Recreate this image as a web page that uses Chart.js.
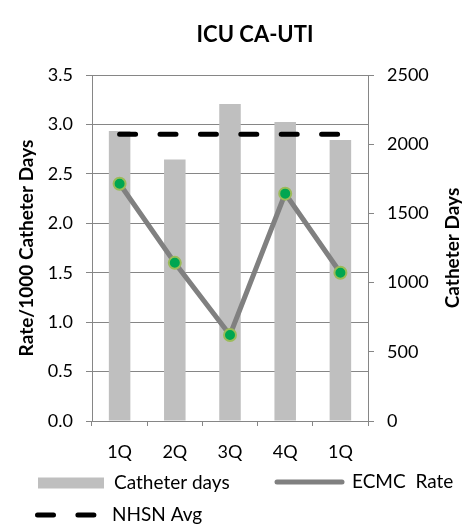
<!DOCTYPE html>
<html>
<head>
<meta charset="utf-8">
<title>ICU CA-UTI</title>
<script src="https://cdn.jsdelivr.net/npm/chart.js@4.4.1/dist/chart.umd.min.js"></script>
<style>
  html, body { margin: 0; padding: 0; background: #fff; }
  canvas { display: block; }
</style>
</head>
<body>
<canvas id="cautiChart" width="470" height="527"></canvas>
<script>
// ------------------- Dane -------------------
const quarters = ['1Q', '2Q', '3Q', '4Q', '1Q'];
const catheterDays = [2095, 1890, 2290, 2160, 2030];
const ecmcRate = [2.4, 1.6, 0.87, 2.3, 1.5];
const nhsnAvg = [2.9, 2.9, 2.9, 2.9, 2.9];
const seriesLabels = ['Catheter days', 'ECMC  Rate', 'NHSN Avg'];
const axisTitles = ['Rate/1000 Catheter Days', 'Catheter Days'];

const FONT = 'Lato';
const GRID = '#868686';
Chart.defaults.font.family = FONT;
Chart.defaults.color = '#000';

// ------------------- Tytuły osi i legenda -------------------
const sidePlugin = {
    id: 'sidePlugin',
    afterDraw(chart) {
        const ctx = chart.ctx;
        const area = chart.chartArea;
        const midY = (area.top + area.bottom) / 2;

        ctx.save();
        ctx.fillStyle = '#000';
        ctx.font = 'bold 19px ' + FONT;
        ctx.textAlign = 'center';
        ctx.textBaseline = 'middle';
        [[27, axisTitles[0]], [453, axisTitles[1]]].forEach(([x, text]) => {
            ctx.save();
            ctx.translate(x, midY);
            ctx.rotate(-Math.PI / 2);
            ctx.fillText(text, 0, 0);
            ctx.restore();
        });
        ctx.restore();

        // legenda: pozycja znacznika, rodzaj, początek tekstu, zbiór danych
        const ds = chart.data.datasets;
        const items = [
            { x: 38, y: 483, w: 66, kind: 'box', tx: 114, d: ds[2] },
            { x: 277, y: 482, w: 65, kind: 'line', tx: 352, d: ds[1] },
            { x: 37.5, y: 515, w: 59, kind: 'dash', tx: 112, d: ds[0] }
        ];
        ctx.save();
        items.forEach(it => {
            if (it.kind === 'box') {
                ctx.fillStyle = it.d.backgroundColor;
                ctx.fillRect(it.x, it.y - 5.5, it.w, 11);
            } else {
                ctx.strokeStyle = it.d.borderColor;
                ctx.lineWidth = 5;
                ctx.lineCap = 'round';
                ctx.setLineDash(it.kind === 'dash' ? it.d.borderDash : []);
                ctx.beginPath();
                ctx.moveTo(it.x, it.y);
                ctx.lineTo(it.x + it.w, it.y);
                ctx.stroke();
                ctx.setLineDash([]);
            }
            ctx.fillStyle = '#000';
            ctx.font = '19px ' + FONT;
            ctx.textAlign = 'left';
            ctx.textBaseline = 'middle';
            ctx.fillText(it.d.label, it.tx, it.y);
        });
        ctx.restore();
    }
};

// ------------------- Wykres -------------------
new Chart(document.getElementById('cautiChart'), {
    type: 'bar',
    data: {
        labels: quarters,
        datasets: [
            {
                type: 'line',
                label: seriesLabels[2],
                data: nhsnAvg,
                yAxisID: 'y',
                borderColor: '#000',
                borderWidth: 5,
                borderDash: [16, 24.4],
                borderCapStyle: 'round',
                pointRadius: 0,
                fill: false,
                order: 0
            },
            {
                type: 'line',
                label: seriesLabels[1],
                data: ecmcRate,
                yAxisID: 'y',
                borderColor: '#808080',
                borderWidth: 5,
                pointRadius: 6,
                pointBackgroundColor: '#00a651',
                pointBorderColor: '#9bbb59',
                pointBorderWidth: 2,
                fill: false,
                order: 1
            },
            {
                type: 'bar',
                label: seriesLabels[0],
                data: catheterDays,
                yAxisID: 'y1',
                backgroundColor: '#bfbfbf',
                categoryPercentage: 1,
                barPercentage: 0.39,
                order: 2
            }
        ]
    },
    options: {
        responsive: false,
        animation: false,
        layout: { padding: { left: 40, top: 0, right: 0, bottom: 56 } },
        plugins: {
            legend: { display: false },
            tooltip: { enabled: false },
            title: {
                display: true,
                text: 'ICU CA-UTI',
                color: '#000',
                font: { size: 22, weight: 'bold' },
                padding: { top: 22, bottom: 26.6 }
            }
        },
        scales: {
            x: {
                offset: true,
                grid: { offset: true, drawOnChartArea: false, tickLength: 5, color: GRID },
                border: { color: GRID },
                ticks: { font: { size: 18 }, padding: 15, maxRotation: 0 },
                afterFit: s => { s.height = 50; }
            },
            y: {
                position: 'left',
                min: 0,
                max: 3.5,
                grid: { color: GRID, tickLength: 6 },
                border: { color: GRID },
                ticks: { stepSize: 0.5, font: { size: 18 }, padding: 13, callback: v => v.toFixed(1) },
                afterFit: s => { s.width = 52; }
            },
            y1: {
                position: 'right',
                min: 0,
                max: 2500,
                grid: { drawOnChartArea: false, tickLength: 6, color: GRID },
                border: { color: GRID },
                ticks: { stepSize: 500, font: { size: 18 }, padding: 13, callback: v => String(v) },
                afterFit: s => { s.width = 102; }
            }
        }
    },
    plugins: [sidePlugin]
});
</script>
</body>
</html>
